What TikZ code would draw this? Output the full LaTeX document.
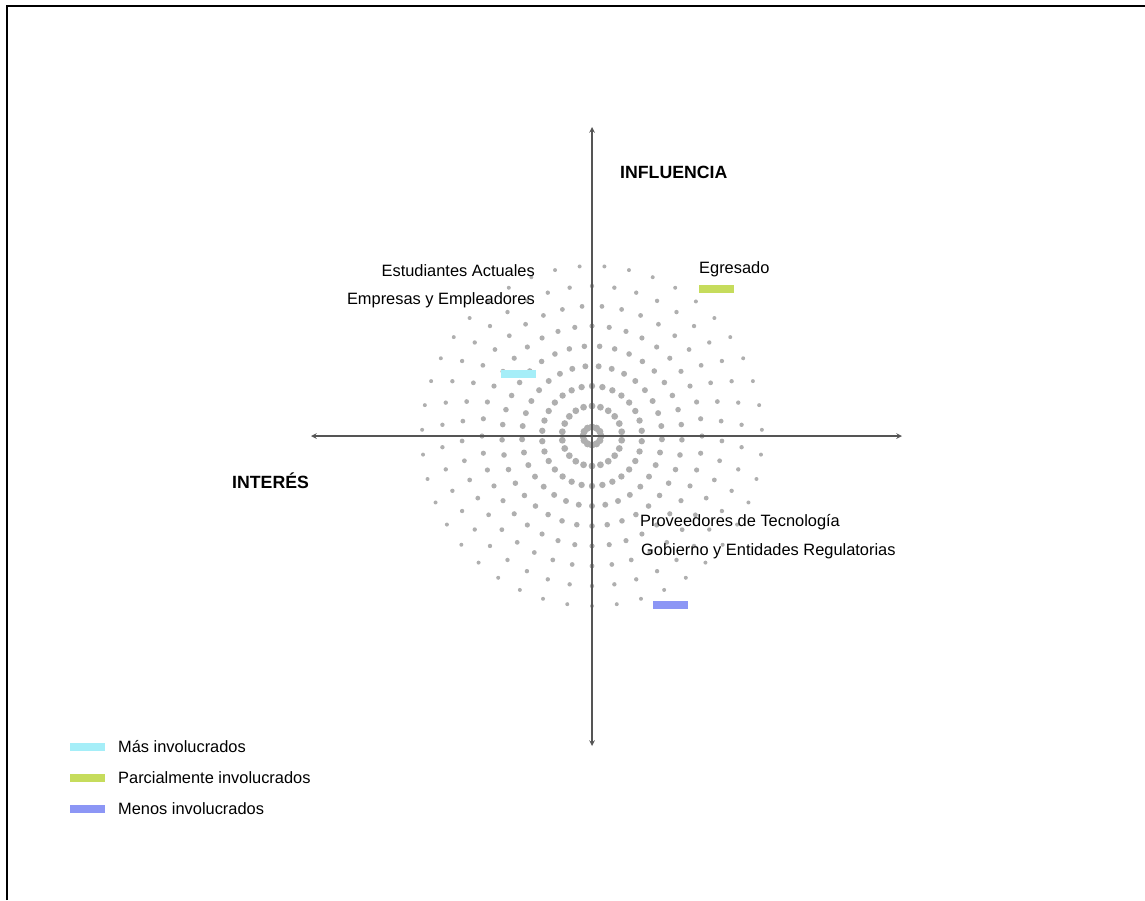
\documentclass[tikz,border=0pt]{standalone}
\usepackage{fontspec}
\setmainfont{Liberation Sans}
\definecolor{masinv}{RGB}{165,238,248}
\definecolor{parinv}{RGB}{198,220,92}
\definecolor{meninv}{RGB}{140,150,245}
\definecolor{dotgray}{RGB}{175,175,175}
\definecolor{axisgray}{RGB}{85,85,85}
\begin{document}
\begin{tikzpicture}[x=1pt, y=-1pt,
        lbl/.style={inner sep=0pt, font=\fontsize{16.4}{19}\selectfont},
        ttl/.style={inner sep=0pt, font=\fontsize{17.7}{21}\bfseries},
        bar/.style={inner sep=0pt, minimum width=35pt, minimum height=7.5pt, fill=#1},
        axis/.style={stealth-stealth, line width=1.5pt, axisgray}]
        \useasboundingbox (0,0) rectangle (1145,900);
        \draw[line width=2pt] (7,900) -- (7,6) -- (1145,6);
        \coordinate (O) at (592,436);
        \coordinate (T) at (592,127);
        \coordinate (B) at (592,746);
        \coordinate (L) at (311,436);
        \coordinate (R) at (902,436);
        % rings of dots
        \foreach \r/\n in {9/12, 30/22, 50/30, 70/33, 90/37, 110/40, 130/41, 150/42, 170/43} {
            \pgfmathsetmacro\dotr{(7.4-0.02*\r)/2}
            \foreach \k in {1,...,\n}
                \fill[dotgray] ([shift={({90+360*\k/\n}:\r)}] O) circle (\dotr);
        }
        \draw[axis] (L) -- (R);
        \draw[axis] (B) -- (T);
        \node[ttl, anchor=base west] (infl) at (620,178) {INFLUENCIA};
        \node[ttl, anchor=base west] (inter) at (232,488) {INTERÉS};
        \node[lbl, anchor=base east] (estud) at (535,276) {Estudiantes Actuales};
        \node[lbl, anchor=base east] (empre) at (535,304) {Empresas y Empleadores};
        \node[lbl, anchor=base west] (egres) at (699,273) {Egresado};
        \node[lbl, anchor=base west] (prove) at (640,526) {Proveedores de Tecnología};
        \node[lbl, anchor=base west] (gobie) at (641,555) {Gobierno y Entidades Regulatorias};
        \node[bar=masinv] (barmas) at (518.5,374) {};
        \node[bar=parinv] (barpar) at (716.5,289) {};
        \node[bar=meninv] (barmen) at (670,605) {};
        % legend
        \node[bar=masinv] (legmas) at (87.5,747) {};
        \node[bar=parinv] (legpar) at (87.5,778) {};
        \node[bar=meninv] (legmen) at (87.5,809) {};
        \node[lbl, anchor=base west] (txtmas) at (118,752.5) {Más involucrados};
        \node[lbl, anchor=base west] (txtpar) at (118,783) {Parcialmente involucrados};
        \node[lbl, anchor=base west] (txtmen) at (118,814) {Menos involucrados};
    \end{tikzpicture}
\end{document}
